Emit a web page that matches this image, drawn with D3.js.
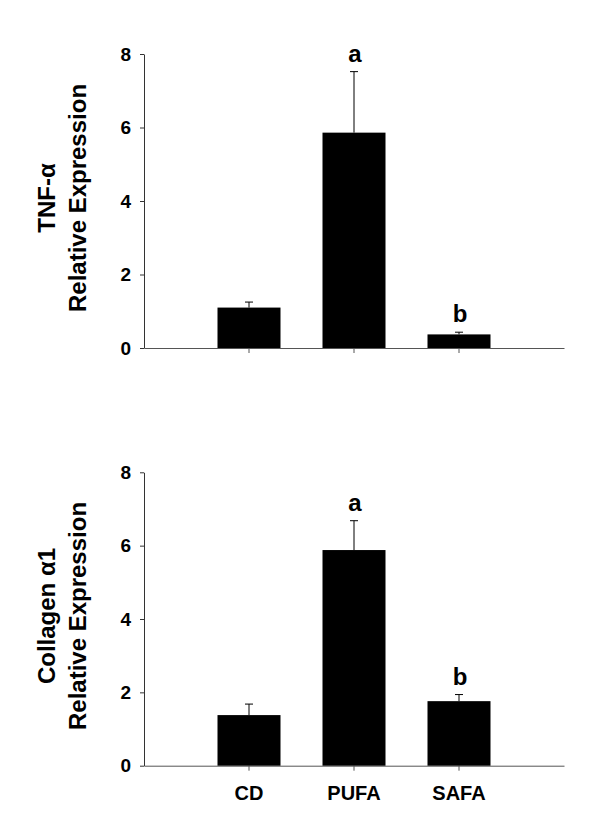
<!DOCTYPE html>
<html>
<head>
<meta charset="utf-8">
<title>TNF-alpha and Collagen alpha1 expression</title>
<script src="https://d3js.org/d3.v7.min.js"></script>
<style>
  body { margin: 0; background: #fff; }
  text { font-family: "Liberation Sans", Arial, sans-serif; font-weight: bold; fill: #000; }
</style>
</head>
<body>
<div id="chart"></div>
<script>
// data
var categories = ["CD", "PUFA", "SAFA"];
var tnfMean = [1.10, 5.86, 0.37];
var tnfErr = [0.15, 1.66, 0.06];
var tnfLetters = ["", "a", "b"];
var colMean = [1.38, 5.88, 1.76];
var colErr = [0.30, 0.80, 0.18];
var colLetters = ["", "a", "b"];
var yTicks = [0, 2, 4, 6, 8];

var svg = d3.select("#chart").append("svg")
    .attr("width", 600)
    .attr("height", 827);

var x = d3.scaleBand()
    .domain(categories)
    .range([144, 564])
    .paddingInner(0.4)
    .paddingOuter(0.7);

function panel(top, bottom, means, errs, letters, titleLines, showLabels) {
    var y = d3.scaleLinear().domain([0, 8]).range([bottom, top]);
    var g = svg.append("g");

    // y axis
    var ya = g.append("g")
        .attr("transform", "translate(144,0)")
        .call(d3.axisLeft(y).tickValues(yTicks).tickSize(4).tickSizeOuter(0).tickPadding(9));
    ya.selectAll("path, line").attr("stroke", "#333");
    ya.selectAll("text").style("font-size", "19px").attr("fill", "#000");

    // x axis
    var xa = g.append("g")
        .attr("transform", "translate(0," + bottom + ")")
        .call(d3.axisBottom(x).tickSize(5).tickSizeOuter(0).tickPadding(15));
    xa.selectAll("path, line").attr("stroke", "#555");
    xa.selectAll("text").style("font-size", "20px").attr("fill", "#000");
    if (!showLabels) xa.selectAll("text").remove();

    // bars
    g.selectAll(".bar").data(means).enter().append("rect")
        .attr("x", function (d, i) { return x(categories[i]); })
        .attr("y", function (d) { return y(d); })
        .attr("width", x.bandwidth())
        .attr("height", function (d) { return y(0) - y(d); })
        .attr("fill", "#000");

    // error bars (upper only)
    var cx = function (i) { return x(categories[i]) + x.bandwidth() / 2; };
    g.selectAll(".err").data(means).enter().append("line")
        .attr("x1", function (d, i) { return cx(i); })
        .attr("x2", function (d, i) { return cx(i); })
        .attr("y1", function (d) { return y(d); })
        .attr("y2", function (d, i) { return y(d + errs[i]); })
        .attr("stroke", "#000");
    g.selectAll(".cap").data(means).enter().append("line")
        .attr("x1", function (d, i) { return cx(i) - 4; })
        .attr("x2", function (d, i) { return cx(i) + 4; })
        .attr("y1", function (d, i) { return y(d + errs[i]); })
        .attr("y2", function (d, i) { return y(d + errs[i]); })
        .attr("stroke", "#000");

    // significance letters
    g.selectAll(".sig").data(letters).enter().append("text")
        .attr("x", function (d, i) { return cx(i) + 1; })
        .attr("y", function (d, i) { return y(means[i] + errs[i]) - 10; })
        .attr("text-anchor", "middle")
        .style("font-size", "24px")
        .text(function (d) { return d; });

    // y title
    var mid = (top + bottom) / 2 - 3;
    var t = g.append("text")
        .attr("transform", "translate(0," + mid + ") rotate(-90)")
        .attr("text-anchor", "middle")
        .style("font-size", "24px");
    t.append("tspan").attr("x", 0).attr("y", 55).text(titleLines[0]);
    t.append("tspan").attr("x", 0).attr("y", 86).text(titleLines[1]);
}

panel(54, 348, tnfMean, tnfErr, tnfLetters, ["TNF-\u03b1", "Relative Expression"], false);
panel(472.3, 765.7, colMean, colErr, colLetters, ["Collagen \u03b11", "Relative Expression"], true);
</script>
</body>
</html>
